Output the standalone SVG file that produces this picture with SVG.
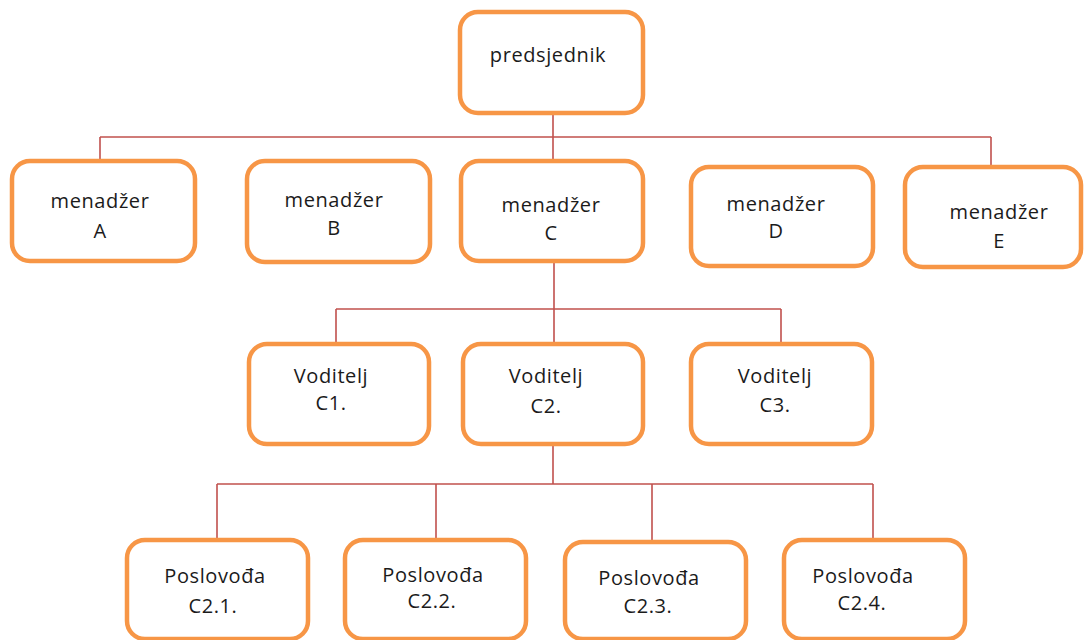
<svg xmlns="http://www.w3.org/2000/svg" width="1084" height="640" viewBox="0 0 1084 640">
<style>
.box{fill:#ffffff;stroke:#F79646;stroke-width:4.5}
.lbl{font-family:"Open Sans","Liberation Sans",sans-serif;font-size:20px;letter-spacing:0.6px;fill:#1b1b1b;text-anchor:middle}
.con{fill:none;stroke:#C0504D;stroke-width:1.6}
</style>
<rect width="1084" height="640" fill="#ffffff"/>
<g id="connectors" class="con">
<path d="M553 114 V161"/>
<path d="M100 137 H991"/>
<path d="M100 137 V161"/>
<path d="M991 137 V167"/>
<path d="M554 263 V344"/>
<path d="M336 309 H781"/>
<path d="M336 309 V344"/>
<path d="M781 309 V344"/>
<path d="M553 446 V484"/>
<path d="M217 484 H873"/>
<path d="M217 484 V540"/>
<path d="M436 484 V540"/>
<path d="M652 484 V542"/>
<path d="M873 484 V540"/>
</g>
<g id="predsjednik"><rect class="box" x="460" y="12" width="183" height="101" rx="18"/><text class="lbl" x="548" y="62">predsjednik</text></g>
<g id="menadzerA"><rect class="box" x="12" y="161" width="183" height="100" rx="18"/><text class="lbl" x="100" y="208">menadžer</text><text class="lbl" x="100" y="238">A</text></g>
<g id="menadzerB"><rect class="box" x="247" y="161" width="183" height="101" rx="18"/><text class="lbl" x="334" y="207">menadžer</text><text class="lbl" x="334" y="235">B</text></g>
<g id="menadzerC"><rect class="box" x="461" y="161" width="182" height="100" rx="18"/><text class="lbl" x="551" y="212">menadžer</text><text class="lbl" x="551" y="240">C</text></g>
<g id="menadzerD"><rect class="box" x="691" y="167" width="182" height="99" rx="18"/><text class="lbl" x="776" y="211">menadžer</text><text class="lbl" x="776" y="238">D</text></g>
<g id="menadzerE"><rect class="box" x="905" y="167" width="176" height="100" rx="18"/><text class="lbl" x="999" y="219">menadžer</text><text class="lbl" x="999" y="248">E</text></g>
<g id="voditeljC1"><rect class="box" x="249" y="344" width="180" height="100" rx="18"/><text class="lbl" x="331" y="383">Voditelj</text><text class="lbl" x="331" y="410">C1.</text></g>
<g id="voditeljC2"><rect class="box" x="463" y="344" width="180" height="100" rx="18"/><text class="lbl" x="546" y="383">Voditelj</text><text class="lbl" x="546" y="413">C2.</text></g>
<g id="voditeljC3"><rect class="box" x="691" y="344" width="181" height="100" rx="18"/><text class="lbl" x="775" y="383">Voditelj</text><text class="lbl" x="775" y="412">C3.</text></g>
<g id="poslovodjaC21"><rect class="box" x="127" y="540" width="181" height="99" rx="18"/><text class="lbl" x="215" y="583">Poslovođa</text><text class="lbl" x="213" y="613">C2.1.</text></g>
<g id="poslovodjaC22"><rect class="box" x="345" y="540" width="181" height="99" rx="18"/><text class="lbl" x="433" y="582">Poslovođa</text><text class="lbl" x="432" y="608">C2.2.</text></g>
<g id="poslovodjaC23"><rect class="box" x="565" y="542" width="181" height="97" rx="18"/><text class="lbl" x="649" y="585">Poslovođa</text><text class="lbl" x="648" y="613">C2.3.</text></g>
<g id="poslovodjaC24"><rect class="box" x="784" y="540" width="181" height="99" rx="18"/><text class="lbl" x="863" y="583">Poslovođa</text><text class="lbl" x="862" y="610">C2.4.</text></g>
</svg>
